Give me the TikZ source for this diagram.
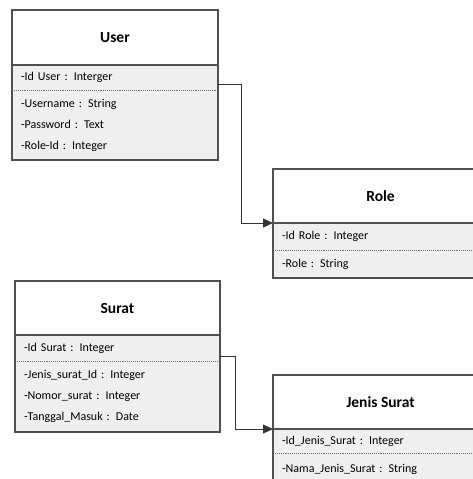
\documentclass[tikz,border=0pt]{standalone}
\usepackage{fontspec}
\setmainfont{Carlito}
\usetikzlibrary{positioning,arrows.meta}
\definecolor{boxline}{HTML}{505050}
\definecolor{boxfill}{HTML}{EFEFEF}

\begin{document}
\begin{tikzpicture}[x=1pt,y=-1pt,node distance=0pt,
    head/.style={draw=boxline,fill=white,line width=1.1pt,inner sep=0pt,outer sep=0pt,
      minimum height=54pt,font=\fontsize{15.5}{18}\selectfont\bfseries},
    keyrow/.style={fill=boxfill,inner xsep=9pt,inner ysep=0pt,outer sep=0pt,
      text width=#1,align=left,font=\fontsize{12}{14}\selectfont},
    attrs/.style={keyrow=#1,font=\fontsize{12}{21}\selectfont},
    frame/.style={draw=boxline,line width=1.1pt},
    sep/.style={draw=boxline!80,densely dotted,line width=0.9pt},
    conn/.style={draw=black!80,line width=0.9pt,-{Triangle[length=10pt,width=9pt]}}]
    \useasboundingbox (0,0) rectangle (473,479);
    \clip (0,0) rectangle (473,479);

    % User
    \node[head,anchor=north west,minimum width=206pt,minimum height=55pt] (user) at (12,10) {User};
    \node[keyrow=188pt,minimum height=25pt,below=of user] (userkey) {-Id User : Interger};
    \node[attrs=188pt,minimum height=70pt,below=of userkey] (userattr)
      {-Username : String\\-Password : Text\\-Role-Id : Integer};
    \draw[frame] (userkey.north west) rectangle (userattr.south east);
    \draw[sep] ([xshift=2pt]userkey.south west) -- ([xshift=-2pt]userkey.south east);

    % Role
    \node[head,anchor=north west,minimum width=215pt] (role) at (273,169) {Role};
    \node[keyrow=197pt,minimum height=27pt,below=of role] (rolekey) {-Id Role : Integer};
    \node[attrs=197pt,minimum height=28pt,below=of rolekey] (roleattr) {-Role : String};
    \draw[frame] (rolekey.north west) rectangle (roleattr.south east);
    \draw[sep] ([xshift=2pt]rolekey.south west) -- ([xshift=-2pt]rolekey.south east);

    % Surat
    \node[head,anchor=north west,minimum width=205pt] (surat) at (15,281) {Surat};
    \node[keyrow=187pt,minimum height=26pt,below=of surat] (suratkey) {-Id Surat : Integer};
    \node[attrs=187pt,minimum height=71pt,below=of suratkey] (suratattr)
      {-Jenis\_surat\_Id : Integer\\-Nomor\_surat : Integer\\-Tanggal\_Masuk : Date};
    \draw[frame] (suratkey.north west) rectangle (suratattr.south east);
    \draw[sep] ([xshift=2pt]suratkey.south west) -- ([xshift=-2pt]suratkey.south east);

    % Jenis Surat
    \node[head,anchor=north west,minimum width=215pt] (jenis) at (273,375) {Jenis Surat};
    \node[keyrow=197pt,minimum height=24pt,below=of jenis] (jeniskey) {-Id\_Jenis\_Surat : Integer};
    \node[attrs=197pt,minimum height=32pt,below=of jeniskey] (jenisattr) {-Nama\_Jenis\_Surat : String};
    \draw[frame] (jeniskey.north west) rectangle (jenisattr.south east);
    \draw[sep] ([xshift=2pt]jeniskey.south west) -- ([xshift=-2pt]jeniskey.south east);

    \draw[conn] ([yshift=5.5pt]userkey.south east) -- ++(23,0) |- (role.south west);
    \draw[conn] ([yshift=5pt]suratkey.south east) -- ++(15,0) |- (jenis.south west);
\end{tikzpicture}
\end{document}
